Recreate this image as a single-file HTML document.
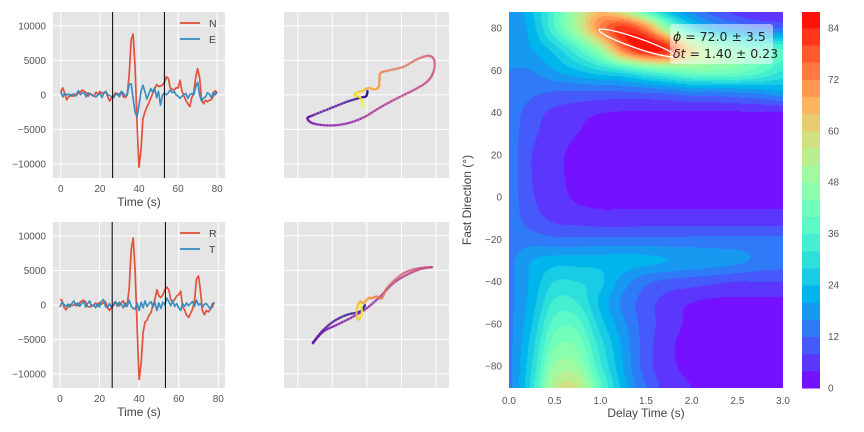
<!DOCTYPE html>
<html><head><meta charset="utf-8">
<style>
html,body{margin:0;padding:0;background:#fff;}
#wrap{position:relative;width:864px;height:432px;overflow:hidden;font-family:"Liberation Sans",sans-serif;}
#heat{position:absolute;left:509px;top:12px;}
#ov{position:absolute;left:0;top:0;}
</style></head>
<body>
<div id="wrap">
<canvas id="heat" width="274" height="376"></canvas>
<svg id="ov" width="864" height="432" xmlns="http://www.w3.org/2000/svg"></svg>
</div>
<script>
// ---------- data ----------
const times = Array.from({length:81},(_,i)=>i);
const northVals = [500,1000,200,-700,-300,0,-200,100,-100,300,400,700,500,300,-200,200,-100,-200,400,0,500,200,300,500,-300,-900,-400,-200,300,0,100,400,-300,-400,0,3000,8000,8800,4000,-4000,-10500,-8000,-3500,-2500,-1800,-1200,-500,200,900,1500,1200,1300,1400,1800,2600,2400,1000,800,700,1000,1000,2100,500,-200,-800,-1300,-1700,-400,300,2500,3800,2500,-600,-1300,-800,-1000,-800,-700,-200,600,300];
const eastVals = [500,-300,200,0,100,-200,100,-200,100,600,0,300,200,-300,300,100,0,-200,-300,0,200,-400,200,500,0,-100,-300,-400,0,200,-300,500,200,-200,100,1500,1600,-500,-2500,-3200,-1500,500,1400,500,-600,100,900,400,1000,-400,500,-1500,0,200,0,300,700,300,500,0,-200,-500,-200,0,200,-500,0,200,0,1200,1800,0,-900,-500,-300,300,100,-400,400,0,400];
const timesRT = Array.from({length:79},(_,i)=>i);
const radialVals = [800,700,-300,-700,-300,100,-100,0,200,-100,300,600,700,400,-200,-300,0,-100,300,-200,400,100,300,500,-300,-800,-400,-100,400,200,-100,300,600,-200,0,2500,8000,9700,5000,-3000,-10800,-8500,-4000,-2500,-2200,-1500,-1100,0,800,2200,1300,1100,1500,2200,2600,2200,800,500,800,1300,1500,2000,-300,-700,-1500,-1800,-1200,-600,600,3800,4200,2000,-800,-1400,-800,-1000,-600,-300,400];
const transVals = [-300,400,100,-200,100,-300,200,600,-100,300,-200,200,500,-300,200,600,-200,0,-400,200,-300,500,800,-200,-400,200,-300,100,500,-200,400,100,-400,300,-200,700,-200,-500,-600,300,-800,400,-400,600,-200,200,500,-300,400,-800,300,-500,400,0,1000,500,-100,600,-200,200,-400,-800,200,-200,300,-100,200,500,-200,700,0,200,-300,100,200,-200,-600,200,300];
const windowTop = [26.5, 53];
const windowBottom = [26.4, 53.3];
const pmTopX = [100,-100,-1000,-2900,-5320,-7740,-8610,-7740,-5320,-2900,-490,1930,4350,6760,8700,9660,9760,8930,7250,5310,3380,2030,1830,1680,960,230,-720,-1220,-1840,-970,-490];
const pmTopY = [600,-200,-430,-1010,-1970,-2940,-3420,-4150,-4440,-4150,-3280,-1830,-520,680,1880,3330,5030,5650,5130,4060,3580,3190,2130,1070,780,1010,540,430,-40,-380,-1830];
const pmBotX = [-250,-970,-2900,-4840,-6530,-7830,-6290,-4350,-1940,0,1930,3860,5800,7730,9430,7730,5800,4350,2900,2180,1450,730,240,-490,-970,-1450,-1360,-830,-730,-970];
const pmBotY = [0,-970,-1450,-2420,-3870,-5550,-3870,-2900,-1690,-480,1200,3150,4350,5170,5460,5320,4830,3870,2420,970,1200,970,970,240,480,-480,-2080,-1690,-730,0];
const delayTimes = [0,0.25,0.5,0.75,1,1.25,1.5,1.75,2,2.25,2.5,2.75,3];
const fastDirs = [90,80,70,60,50,40,30,20,10,0,-10,-20,-30,-40,-50,-60,-70,-80,-90];
const energyGrid = [
[16,24,36,52,62,50,32,20,14,9,5,3,3],
[16,22,36,52,72,82,72,46,28,20,16,13,12],
[16,20,26,36,50,74,86,82,60,48,42,38,36],
[16,16,20,24,28,32,38,42,44,44,42,38,32],
[15,13,12,12,12,12,13,14,16,16,17,18,20],
[14,10,7,5.5,4.2,3.7,3.6,3.6,3.6,3.6,3.6,3.6,3.6],
[14,9,6,4,3,2.5,2.5,2.5,2.5,2.5,2.5,2.5,2.5],
[14,8,5,3,2,2,2,2,2,2,2,2,2],
[14,8,5,3,2,2,2,2,2,2,2,2,2],
[14,8.5,5.5,3.5,3,3,3,3,3,3,3,3,3],
[14,10,7,6,5.5,5.5,5.5,5.5,5.5,5.5,5.5,5.5,5.5],
[14,14,13,13,13,13,13,13,13,13,13,13,13],
[15,20,22,22,22,22,21,20,19,18,17,15,14],
[15,21,28,28,25,18,13,11,10,9,8,8,8],
[15,22,33,32,23,15,10,6,4,3,3,3,3],
[15,24,38,38,26,17,10,6,3,2,2,2,3],
[15,26,43,43,30,19,10,5,2,1,1,1,2],
[15,28,48,48,33,20,10,5,3,2,2,2,3],
[15,30,54,56,38,22,12,6,4,3,3,3,3]];
const levels = Array.from({length:23},(_,i)=>i*4);
const cbTicks = [0,12,24,36,48,60,72,84];
const tsYTicks = [10000,5000,0,-5000,-10000];
const tsXTicks = [0,20,40,60,80];
const pmTicks = [-10000,-5000,0,5000,10000];
const dtTicks = [0,0.5,1,1.5,2,2.5,3];
const phiTicks = [80,60,40,20,0,-20,-40,-60,-80];
const bestPhi = 72.0, bestDt = 1.40;

// ---------- helpers ----------
const svg = document.getElementById('ov');
const NS = 'http://www.w3.org/2000/svg';
function mk(tag, attrs, parent){const e=document.createElementNS(NS,tag);for(const k in attrs)e.setAttribute(k,attrs[k]);(parent||svg).appendChild(e);return e;}
function lin(d0,d1,r0,r1){return v=>r0+(v-d0)/(d1-d0)*(r1-r0);}
function txt(x,y,s,anchor,size,fill,name){const t=mk('text',{x:x,y:y,'text-anchor':anchor,'font-size':size,fill:fill,'font-family':'Liberation Sans, sans-serif'});t.textContent=s;


return t;}
function rainbow(x){x=Math.max(0,Math.min(1,x));const r=Math.min(1,Math.abs(2*x-0.5)),g=Math.max(0,Math.sin(Math.PI*x)),b=Math.max(0,Math.cos(Math.PI*x/2));return [Math.round(r*255),Math.round(g*255),Math.round(b*255)];}
const plasmaStops=[[13,8,135],[126,3,168],[204,71,120],[248,149,64],[240,249,33]];
function plasma(x){x=Math.max(0,Math.min(1,x))*4;const i=Math.min(3,Math.floor(x)),f=x-i,a=plasmaStops[i],b=plasmaStops[i+1];return 'rgb('+a.map((v,k)=>Math.round(v+(b[k]-v)*f)).join(',')+')';}
function levelColor(i){const mid=(levels[i]+levels[i+1])/2;const c=rainbow((mid-levels[0])/(levels[levels.length-1]-levels[0]));return c;}
function cr(p0,p1,p2,p3,t){return 0.5*((2*p1)+(-p0+p2)*t+(2*p0-5*p1+4*p2-p3)*t*t+(-p0+3*p1-3*p2+p3)*t*t*t);}

// ---------- time series panels ----------
function tsPanel(top, xd, yd, tArr, s1, s2, names, win, prefix){
  const L=53,R=225,T=top,B=top+166;
  const xs=lin(xd[0],xd[1],L,R), ys=lin(yd[0],yd[1],B,T);
  const g=mk('g',{});
  
  
  mk('rect',{x:L,y:T,width:R-L,height:B-T,fill:'#e5e5e5'},g);
  tsYTicks.forEach(v=>{mk('line',{x1:L,x2:R,y1:ys(v),y2:ys(v),stroke:'#fff','stroke-width':1},g);
    txt(L-7,ys(v)+3.5,(v<0?'\u2212':'')+Math.abs(v),'end',10,'#555',prefix+'-ytick-label');});
  tsXTicks.forEach(v=>{mk('line',{x1:xs(v),x2:xs(v),y1:T,y2:B,stroke:'#fff','stroke-width':1},g);
    txt(xs(v),B+14,String(v),'middle',10,'#555',prefix+'-xtick-label');});
  const cols=['#E24A33','#348ABD'];
  [s1,s2].forEach((s,k)=>{
    const p=mk('polyline',{points:tArr.map((t,i)=>xs(t).toFixed(1)+','+ys(s[i]).toFixed(1)).join(' '),fill:'none',stroke:cols[k],'stroke-width':1.7,'stroke-linejoin':'round',opacity:0.95},g);
    
    
  });
  win.forEach((w,k)=>{const l=mk('line',{x1:xs(w),x2:xs(w),y1:T,y2:B,stroke:'#000','stroke-width':1},g);
    
    });
  names.forEach((n,k)=>{const ly=T+11+k*16;
    const lg=mk('g',{},g);
    
    
    mk('line',{x1:180,x2:200,y1:ly,y2:ly,stroke:cols[k],'stroke-width':1.7},lg);
    const t=mk('text',{x:209,y:ly+4,'font-size':10.5,fill:'#444','font-family':'Liberation Sans, sans-serif'},lg);t.textContent=n;});
  txt(139,B+28,'Time (s)','middle',12,'#444',prefix+'-x-axis-title');
}
tsPanel(12,[-4,84],[-12050,12000],times,northVals,eastVals,['N','E'],windowTop,'ne');
tsPanel(222,[-3.5,83.4],[-12030,12030],timesRT,radialVals,transVals,['R','T'],windowBottom,'rt');

// ---------- particle motion ----------
function pmPanel(top, px, py, prefix){
  const L=284,R=449,T=top,B=top+166;
  const xs=lin(-12000,11900,L,R), ys=lin(-12050,12000,B,T);
  const g=mk('g',{});
  
  
  mk('rect',{x:L,y:T,width:R-L,height:B-T,fill:'#e5e5e5'},g);
  pmTicks.forEach(v=>{mk('line',{x1:L,x2:R,y1:ys(v),y2:ys(v),stroke:'#fff','stroke-width':1},g);
    mk('line',{x1:xs(v),x2:xs(v),y1:T,y2:B,stroke:'#fff','stroke-width':1},g);});
  const n=px.length, sub=6, pts=[];
  const gx=i=>px[Math.max(0,Math.min(n-1,i))], gy=i=>py[Math.max(0,Math.min(n-1,i))];
  for(let i=0;i<n-1;i++){for(let s=0;s<sub;s++){const t=s/sub;
    pts.push([cr(gx(i-1),gx(i),gx(i+1),gx(i+2),t),cr(gy(i-1),gy(i),gy(i+1),gy(i+2),t),(i+t)/(n-1)]);}}
  pts.push([px[n-1],py[n-1],1]);
  for(let i=0;i<pts.length-1;i++){
    const s=mk('line',{x1:xs(pts[i][0]),y1:ys(pts[i][1]),x2:xs(pts[i+1][0]),y2:ys(pts[i+1][1]),stroke:plasma(pts[i][2]),'stroke-width':2.4,'stroke-linecap':'round','stroke-opacity':0.55},g);
    
    
  }
}
pmPanel(12,pmTopX,pmTopY,'ne');
pmPanel(222,pmBotX,pmBotY,'rt');

// ---------- contour heatmap ----------
const HX0=509,HX1=783,HY0=12,HY1=388;
const dtS=lin(0,3,HX0,HX1), phS=lin(-90.3,87.6,HY1,HY0);
function gv(r,c){r=Math.max(0,Math.min(fastDirs.length-1,r));c=Math.max(0,Math.min(delayTimes.length-1,c));return energyGrid[r][c];}
function field(dt,phi){
  const cf=(dt-delayTimes[0])/(delayTimes[1]-delayTimes[0]);
  const rf=(fastDirs[0]-phi)/(fastDirs[0]-fastDirs[1]);
  const c=Math.floor(cf),r=Math.floor(rf),tc=cf-c,tr=rf-r;
  const rows=[];for(let k=-1;k<3;k++){rows.push(cr(gv(r+k,c-1),gv(r+k,c),gv(r+k,c+1),gv(r+k,c+2),tc));}
  return cr(rows[0],rows[1],rows[2],rows[3],tr);
}
(function(){
  const cv=document.getElementById('heat'),ctx=cv.getContext('2d');
  const W=cv.width,H=cv.height,img=ctx.createImageData(W,H);
  const lut=[];for(let i=0;i<levels.length-1;i++)lut.push(levelColor(i));
  for(let y=0;y<H;y++){for(let x=0;x<W;x++){
    const dt=(x+0.5)/W*3, phi=87.6-(y+0.5)/H*(87.6+90.3);
    let v=field(dt,phi);let idx=Math.floor((v-levels[0])/4);idx=Math.max(0,Math.min(lut.length-1,idx));
    const c=lut[idx],o=(y*W+x)*4;img.data[o]=c[0];img.data[o+1]=c[1];img.data[o+2]=c[2];img.data[o+3]=255;}}
  ctx.putImageData(img,0,0);
})();
// confidence contour & best estimate box
(function(){
  const cx=dtS(bestDt),cy=phS(bestPhi)-2;
  const e=mk('ellipse',{cx:cx,cy:cy,rx:40,ry:5,transform:'rotate(19 '+cx+' '+cy+')',fill:'none',stroke:'#fff','stroke-width':1.3});
  
  
  const b=mk('rect',{x:670,y:24,width:103,height:40,rx:3,fill:'#fff','fill-opacity':0.5});
  
  
  const t1=mk('text',{x:673,y:41,'font-size':12.5,fill:'#222','font-family':'DejaVu Sans, sans-serif'});
  t1.innerHTML='<tspan font-style="italic">\u03d5</tspan> = '+bestPhi.toFixed(1)+' \u00b1 3.5';
  
  
  const t2=mk('text',{x:673,y:58,'font-size':12.5,fill:'#222','font-family':'DejaVu Sans, sans-serif'});
  t2.innerHTML='<tspan font-style="italic">\u03b4t</tspan> = '+bestDt.toFixed(2)+' \u00b1 0.23';
  
  
})();
dtTicks.forEach(v=>txt(dtS(v),HY1+16,v.toFixed(1),'middle',10,'#555','delay-tick-label'));
phiTicks.forEach(v=>txt(HX0-7,phS(v)+3.5,(v<0?'\u2212':'')+Math.abs(v),'end',10,'#555','direction-tick-label'));
txt(646,417,'Delay Time (s)','middle',12,'#444','x-axis-title');
(function(){const t=txt(0,0,'Fast Direction (\u00b0)','middle',12,'#444','y-axis-title');t.setAttribute('transform','translate(471,200) rotate(-90)');})();

// ---------- colorbar ----------
const cbS=lin(0,87.7,388,12);
for(let i=0;i<levels.length-1;i++){
  const y0=cbS(Math.min(levels[i+1],87.7)),y1=cbS(levels[i]);
  const c=levelColor(i);
  const r=mk('rect',{x:802,y:y0,width:18,height:Math.max(0,y1-y0)+0.5,fill:'rgb('+c.join(',')+')'});
  
  
}
cbTicks.forEach(v=>txt(828,cbS(v)+3.5,String(v),'start',10,'#555','colorbar-tick-label'));
</script>
</body></html>
